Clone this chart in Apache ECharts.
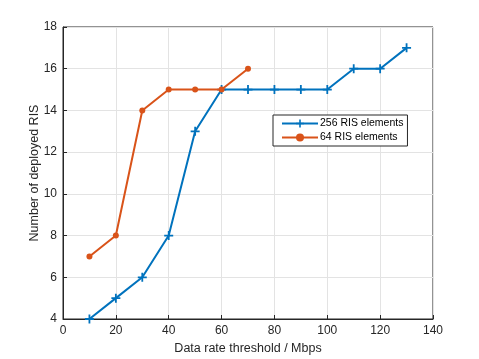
<!DOCTYPE html>
<html><head><meta charset="utf-8">
<script src="https://cdn.jsdelivr.net/npm/echarts@6/dist/echarts.min.js"></script>
<style>html,body{margin:0;padding:0;background:#fff}#c{width:479px;height:359px}</style>
</head><body><div id="c"></div>
<script>
const xBlue = [10,20,30,40,50,60,70,80,90,100,110,120,130];
const yBlue = [4,5,6,8,13,15,15,15,15,15,16,16,17];
const xOrange = [10,20,30,40,50,60,70];
const yOrange = [7,8,14,15,15,15,16];
const nameBlue = '256 RIS elements';
const nameOrange = '64 RIS elements';
const xTitle = 'Data rate threshold / Mbps';
const yTitle = 'Number of deployed RIS';

const plus = 'path://M0.4,0H0.6V0.4H1V0.6H0.6V1H0.4V0.6H0V0.4H0.4Z';
const font = 'Liberation Sans, Arial, sans-serif';
const chart = echarts.init(document.getElementById('c'));
chart.setOption({
  animation:false,
  backgroundColor:'#fff',
  grid:{left:63,top:27,right:46,bottom:40,show:true,borderColor:'#262626',borderWidth:1,outerBoundsMode:'none',containLabel:false},
  legend:{
    orient:'vertical', left:273, top:115,
    itemWidth:36, itemHeight:10, itemGap:3,
    padding:[3,4,3,8],
    borderColor:'#262626', borderWidth:1, backgroundColor:'#fff',
    textStyle:{fontFamily:font,fontSize:10.5,color:'#000',padding:[0,0,0,-3]},
    data:[nameBlue,nameOrange]
  },
  xAxis:{
    type:'value', min:0, max:140, interval:20,
    name:xTitle, nameLocation:'middle', nameGap:23, nameMoveOverlap:false,
    nameTextStyle:{fontFamily:font,fontSize:12.5,color:'#262626'},
    axisLine:{lineStyle:{color:'#262626'}},
    axisTick:{inside:true,length:4,lineStyle:{color:'#262626'}},
    axisLabel:{fontFamily:font,fontSize:12,color:'#262626',margin:6},
    splitLine:{show:true,lineStyle:{color:'#e3e3e3'}}
  },
  yAxis:{
    type:'value', min:4, max:18, interval:2,
    name:yTitle, nameLocation:'middle', nameGap:22, nameMoveOverlap:false,
    nameTextStyle:{fontFamily:font,fontSize:12.5,color:'#262626'},
    axisLine:{lineStyle:{color:'#262626'}},
    axisTick:{inside:true,length:4,lineStyle:{color:'#262626'}},
    axisLabel:{fontFamily:font,fontSize:12,color:'#262626',margin:6},
    splitLine:{show:true,lineStyle:{color:'#e3e3e3'}}
  },
  series:[
    {name:nameBlue,type:'line',data:xBlue.map((x,i)=>[x,yBlue[i]]),
     color:'#0072BD',lineStyle:{width:2,color:'#0072BD'},
     symbol:plus,symbolSize:9,itemStyle:{color:'#0072BD'},z:2},
    {name:nameOrange,type:'line',data:xOrange.map((x,i)=>[x,yOrange[i]]),
     color:'#D95319',lineStyle:{width:2,color:'#D95319'},
     symbol:'circle',symbolSize:6,itemStyle:{color:'#D95319'},z:3}
  ]
});
</script></body></html>
